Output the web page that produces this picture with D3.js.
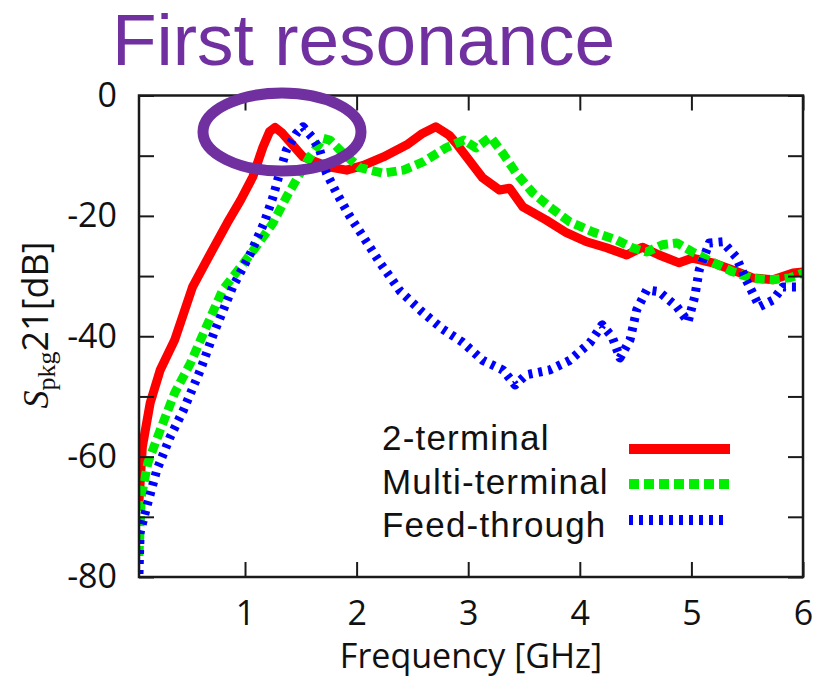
<!DOCTYPE html>
<html>
<head>
  <meta charset="utf-8">
  <title>First resonance</title>
  <script src="https://d3js.org/d3.v7.min.js"></script>
  <style>
    body { margin: 0; background: #fff; }
    .tick-label { font-family: "Open Sans", sans-serif; font-size: 34px; fill: #111; }
    .legend-text { font-family: "Liberation Sans", Arial, sans-serif; font-size: 35px; letter-spacing: 1.2px; fill: #111; }
  </style>
</head>
<body>
<div id="chart"></div>
<script>

const width = 815;
const height = 688;
const margin = {top: 95.5, right: 12, bottom: 111, left: 139};

// frequency [GHz], S21 [dB]
const twoTerminal = [
  [0.05,-67.5],[0.08,-58.4],[0.15,-51.1],[0.24,-45.6],[0.37,-40.6],[0.53,-31.8],
  [0.66,-27.3],[0.84,-21.2],[0.96,-17.4],[1.07,-13.5],[1.16,-8.6],[1.22,-6.0],[1.27,-5.3],
  [1.33,-6.2],[1.52,-10.2],[1.76,-11.9],[1.91,-12.4],[2.06,-11.6],[2.24,-10.2],
  [2.45,-8.2],[2.59,-6.3],[2.71,-5.2],[2.83,-6.6],[2.89,-7.9],[3.13,-13.7],
  [3.28,-15.7],[3.37,-15.4],[3.49,-18.5],[3.70,-20.7],[3.88,-22.8],[4.06,-24.3],
  [4.24,-25.3],[4.42,-26.5],[4.56,-25.2],[4.71,-26.5],[4.89,-27.8],[5.01,-27.0],
  [5.19,-27.8],[5.37,-29.0],[5.55,-30.3],[5.73,-30.6],[5.91,-29.5],[6.00,-29.3]
];

const multiTerminal = [
  [0.05,-76.5],[0.07,-66.7],[0.13,-61.0],[0.24,-55.6],[0.37,-49.4],[0.51,-44.5],
  [0.64,-39.0],[0.80,-32.3],[0.96,-28.5],[1.10,-25.1],[1.25,-21.2],[1.37,-16.9],
  [1.46,-14.0],[1.58,-10.2],[1.70,-7.1],[1.76,-7.4],[1.88,-9.6],[2.03,-12.0],
  [2.24,-12.9],[2.42,-12.4],[2.60,-11.0],[2.80,-8.7],[2.96,-7.4],[3.07,-8.7],
  [3.20,-6.9],[3.31,-9.6],[3.43,-12.9],[3.58,-16.2],[3.73,-18.5],[3.91,-21.0],
  [4.12,-22.7],[4.33,-24.0],[4.47,-25.3],[4.60,-26.0],[4.74,-24.8],[4.87,-24.5],
  [5.01,-26.0],[5.19,-27.7],[5.37,-29.3],[5.55,-30.4],[5.73,-30.6],[5.88,-30.3],[6.00,-29.5]
];

const feedThrough = [
  [0.05,-79.5],[0.06,-72.6],[0.12,-68.3],[0.21,-62.2],[0.33,-56.7],[0.45,-52.2],
  [0.60,-45.6],[0.72,-39.5],[0.89,-31.8],[1.05,-26.2],[1.17,-21.2],[1.25,-16.9],
  [1.31,-12.9],[1.37,-9.1],[1.46,-6.3],[1.52,-5.2],[1.60,-6.9],[1.67,-9.1],
  [1.73,-12.9],[1.82,-16.2],[1.94,-20.1],[2.06,-23.5],[2.21,-27.8],[2.39,-32.5],
  [2.59,-36.0],[2.77,-38.8],[2.95,-41.0],[3.13,-44.0],[3.31,-45.6],[3.42,-48.1],
  [3.52,-46.4],[3.73,-45.6],[3.91,-44.0],[4.09,-41.1],[4.20,-38.1],[4.29,-40.1],
  [4.36,-43.6],[4.45,-40.6],[4.51,-35.6],[4.60,-32.3],[4.71,-32.6],[4.87,-35.1],
  [4.97,-37.6],[5.03,-33.4],[5.07,-29.0],[5.16,-24.5],[5.28,-24.3],[5.40,-26.8],
  [5.49,-30.6],[5.61,-35.1],[5.73,-34.0],[5.82,-31.8],[6.00,-31.8]
];

const seriesNames = ["2-terminal", "Multi-terminal", "Feed-through"];
const xTicks = [1, 2, 3, 4, 5, 6];
const yTicks = [0, -10, -20, -30, -40, -50, -60, -70, -80];
const yTickLabels = [0, -20, -40, -60, -80];

const series = [
  {name: seriesNames[0], data: twoTerminal, color: "#ff0000", dash: null},
  {name: seriesNames[1], data: multiTerminal, color: "#00ee00", dash: "10,5"},
  {name: seriesNames[2], data: feedThrough, color: "#0000ff", dash: "4,6"}
];

const svg = d3.select("#chart").append("svg")
    .attr("width", width)
    .attr("height", height);

const x = d3.scaleLinear().domain([0.05, 6]).range([margin.left, width - margin.right]);
const y = d3.scaleLinear().domain([-80, 0]).range([height - margin.bottom, margin.top]);

svg.append("clipPath").attr("id", "plot-clip")
  .append("rect")
    .attr("x", x.range()[0]).attr("y", y.range()[1])
    .attr("width", x.range()[1] - x.range()[0])
    .attr("height", y.range()[0] - y.range()[1]);

const line = d3.line().x(d => x(d[0])).y(d => y(d[1]));

svg.append("g").attr("clip-path", "url(#plot-clip)")
  .selectAll("path")
  .data(series)
  .join("path")
    .attr("d", d => line(d.data))
    .attr("fill", "none")
    .attr("stroke", d => d.color)
    .attr("stroke-width", 9)
    .attr("stroke-linejoin", "round")
    .attr("stroke-dasharray", d => d.dash);

// frame with inward ticks on all sides
const tickLen = 15;
const axisColor = "#1a1a1a";

svg.append("g")
  .attr("transform", `translate(0,${y(-80)})`)
  .call(d3.axisBottom(x).tickValues(xTicks).tickSizeInner(-tickLen).tickSizeOuter(0).tickPadding(24)
    .tickFormat(d3.format("d")))
  .call(g => g.selectAll("text").attr("class", "tick-label").attr("font-size", null).attr("font-family", null))
  .call(g => g.select(".domain").remove());

svg.append("g")
  .attr("transform", `translate(0,${y(0)})`)
  .call(d3.axisTop(x).tickValues(xTicks).tickSizeInner(-tickLen).tickSizeOuter(0).tickFormat(""))
  .call(g => g.select(".domain").remove());

svg.append("g")
  .attr("transform", `translate(${x(0.05)},0)`)
  .call(d3.axisLeft(y).tickValues(yTicks).tickSizeInner(-tickLen).tickSizeOuter(0).tickPadding(22)
    .tickFormat(d => yTickLabels.includes(d) ? d : ""))
  .call(g => g.selectAll("text").attr("class", "tick-label").attr("font-size", null).attr("font-family", null))
  .call(g => g.select(".domain").remove());

svg.append("g")
  .attr("transform", `translate(${x(6)},0)`)
  .call(d3.axisRight(y).tickValues(yTicks).tickSizeInner(-tickLen).tickSizeOuter(0).tickFormat(""))
  .call(g => g.select(".domain").remove());

svg.selectAll(".tick line").attr("stroke", axisColor).attr("stroke-width", 2);

svg.append("rect")
  .attr("x", x(0.05)).attr("y", y(0))
  .attr("width", x(6) - x(0.05)).attr("height", y(-80) - y(0))
  .attr("fill", "none").attr("stroke", axisColor).attr("stroke-width", 2.5);

// axis titles
svg.append("text")
  .attr("class", "tick-label")
  .attr("x", (x(0.05) + x(6)) / 2)
  .attr("y", 668)
  .attr("text-anchor", "middle")
  .text("Frequency [GHz]");

const ylab = svg.append("text")
  .attr("transform", "translate(48,325) rotate(-90)")
  .attr("text-anchor", "middle")
  .attr("font-size", 36)
  .attr("fill", "#111");
ylab.append("tspan").attr("font-family", "Liberation Serif, serif").attr("font-style", "italic").text("S");
ylab.append("tspan").attr("font-family", "Liberation Serif, serif").attr("font-size", 26).attr("dy", 7).text("pkg");
ylab.append("tspan").attr("font-family", "Open Sans, sans-serif").attr("dy", -7).text("21[dB]");

// legend
const legend = svg.append("g");
const legendLineY = [449, 484, 520];
const legendTextY = [450, 494, 537];
series.forEach((s, i) => {
  legend.append("text")
    .attr("class", "legend-text")
    .attr("x", 382)
    .attr("y", legendTextY[i])
    .text(s.name);
  legend.append("line")
    .attr("x1", 629).attr("x2", i === 2 ? 724 : 730)
    .attr("y1", legendLineY[i]).attr("y2", legendLineY[i])
    .attr("stroke", s.color)
    .attr("stroke-width", 10)
    .attr("stroke-dasharray", s.dash);
});

// annotation
svg.append("ellipse")
  .attr("cx", 282).attr("cy", 132)
  .attr("rx", 79).attr("ry", 39)
  .attr("fill", "none")
  .attr("stroke", "#7030a0")
  .attr("stroke-width", 11);

svg.append("text")
  .attr("x", 112)
  .attr("y", 65)
  .attr("font-family", "Liberation Sans, Arial, sans-serif")
  .attr("font-size", 73)
  .attr("fill", "#7030a0")
  .text("First resonance");

</script>
</body>
</html>
